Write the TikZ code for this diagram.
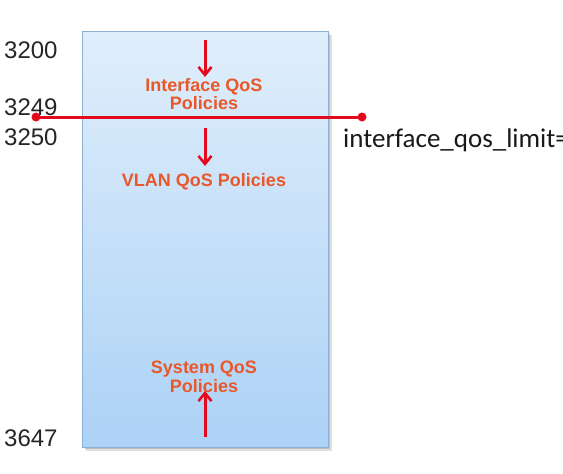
\documentclass[tikz,border=0pt]{standalone}
\usepackage{fontspec}
\setmainfont{Liberation Sans}
\newfontfamily\calib{Carlito}
\usetikzlibrary{arrows.meta}
\definecolor{boxtop}{RGB}{224,238,251}
\definecolor{boxmid}{RGB}{204,228,251}
\definecolor{boxbot}{RGB}{172,210,246}
\definecolor{boxedge}{RGB}{140,175,210}
\definecolor{qosorange}{RGB}{232,88,42}
\definecolor{qosred}{RGB}{228,10,30}
\tikzset{
  levelnum/.style={anchor=west, inner sep=0pt, font=\fontsize{24}{24}\selectfont, text=black!85},
  policy/.style={align=center, inner sep=0pt, text=qosorange, font=\fontsize{18}{18.5}\selectfont\bfseries},
  flow/.style={draw=qosred, line width=3pt, -{Straight Barb[length=8pt,width=13pt,line width=2.6pt]}},
  limitline/.style={draw=qosred, line width=3pt},
  dot/.style={circle, fill=qosred, minimum size=9pt, inner sep=0pt}
}
\begin{document}
\begin{tikzpicture}[x=1pt,y=-1pt]
\useasboundingbox (0,0) rectangle (563,474);
% range box with soft shadow
\fill[black!12] (86,35) rectangle (332,451);
\fill[black!25] (85,34) rectangle (330,449);
\shade[top color=boxtop, middle color=boxmid, bottom color=boxbot] (82,31) rectangle (328,447);
\draw[boxedge, line width=0.8pt] (82,31) rectangle (328,447);
% level numbers
\node[levelnum] (n3200) at (4,50) {3200};
\node[levelnum] (n3249) at (4,107) {3249};
\node[levelnum] (n3250) at (4,137) {3250};
\node[levelnum] (n3647) at (4,438) {3647};
% policy labels
\node[policy] (iface) at (204,94) {Interface QoS\\Policies};
\node[policy] (vlan) at (204,182) {VLAN QoS Policies};
\node[policy] (sys) at (204,377) {System QoS\\Policies};
% arrows
\coordinate (a1s) at (205,40);
\coordinate (a2s) at (205,128);
\coordinate (a3s) at (205,437);
\draw[flow] (a1s) -- (205,77);
\draw[flow] (a2s) -- (205,166);
\draw[flow] (a3s) -- (205,391);
% limit line
\node[dot] (lim1) at (36,117) {};
\node[dot] (lim2) at (362,117) {};
\draw[limitline] (lim1.center) -- (lim2.center);
\node[anchor=base west, inner sep=0pt, font=\calib\fontsize{27}{27}\selectfont, text=black!90] (limtxt) at (343,147) {interface\_qos\_limit=};
\end{tikzpicture}
\end{document}
